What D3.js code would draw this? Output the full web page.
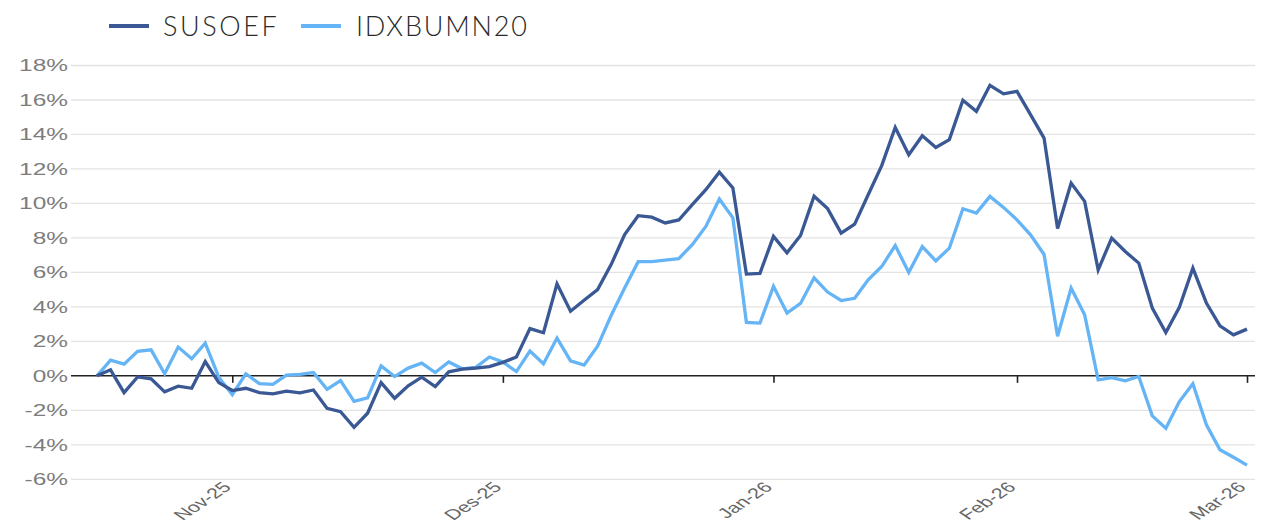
<!DOCTYPE html>
<html>
<head>
<meta charset="utf-8">
<script src="https://cdn.jsdelivr.net/npm/d3@7"></script>
<style>
  html, body { margin: 0; padding: 0; background: #fff; }
  svg { display: block; }
</style>
</head>
<body>
<svg id="chart" width="1272" height="528"></svg>
<script>
// ---- data (percent returns, one value per trading day) ----
const seriesNames = ["SUSOEF", "IDXBUMN20"];
const susoef = [
  0, 0.35, -0.97, -0.06, -0.17, -0.93, -0.6, -0.72, 0.83, -0.39,
  -0.85, -0.72, -0.97, -1.05, -0.89, -0.99, -0.82, -1.88, -2.08, -2.99,
  -2.17, -0.39, -1.3, -0.58, -0.08, -0.62, 0.23, 0.39, 0.45, 0.54,
  0.78, 1.09, 2.74, 2.5, 5.34, 3.75, 4.38, 5.0, 6.45, 8.19,
  9.29, 9.2, 8.87, 9.04, 9.93, 10.8, 11.81, 10.9, 5.9, 5.94,
  8.09, 7.14, 8.14, 10.42, 9.7, 8.28, 8.8, 10.5, 12.19, 14.41,
  12.82, 13.93, 13.25, 13.7, 15.98, 15.34, 16.85, 16.36, 16.5, 15.15,
  13.79, 8.55, 11.18, 10.12, 6.15, 7.99, 7.21, 6.54, 3.93, 2.51,
  3.98, 6.25, 4.22, 2.9, 2.38, 2.71
];
const idxbumn20 = [
  0, 0.91, 0.68, 1.42, 1.51, 0.12, 1.67, 0.99, 1.9, -0.08,
  -1.09, 0.12, -0.45, -0.49, 0.04, 0.08, 0.19, -0.78, -0.27, -1.48,
  -1.28, 0.58, -0.04, 0.45, 0.74, 0.19, 0.8, 0.41, 0.49, 1.09,
  0.8, 0.25, 1.44, 0.7, 2.19, 0.87, 0.62, 1.72, 3.5, 5.1,
  6.62, 6.62, 6.71, 6.8, 7.61, 8.67, 10.26, 9.16, 3.1, 3.06,
  5.19, 3.64, 4.2, 5.69, 4.86, 4.37, 4.5, 5.57, 6.34, 7.56,
  6.0, 7.5, 6.67, 7.41, 9.69, 9.44, 10.41, 9.77, 9.05, 8.18,
  7.04, 2.3, 5.09, 3.54, -0.23, -0.1, -0.29, -0.04, -2.32, -3.04,
  -1.49, -0.46, -2.84, -4.29, -4.72, -5.18
];
const monthLabels = ["Nov-25", "Des-25", "Jan-26", "Feb-26", "Mar-26"];
const monthStartIndex = [10, 30, 50, 68, 85];
const yTicks = [-6, -4, -2, 0, 2, 4, 6, 8, 10, 12, 14, 16, 18];

// ---- layout ----
const colors = ["#3a5894", "#64b4f6"];
const stretch = 1.5; // chart texts appear horizontally widened
const svg = d3.select("#chart");
const gridLeft = 71, gridRight = 1255;

const x = d3.scaleLinear().domain([0, susoef.length - 1]).range([97, 1247]);
const y = d3.scaleLinear().domain([-6, 18]).range([479.3, 65.5]);

// gridlines
svg.append("g").selectAll("line").data(yTicks.filter(d => d !== 0)).join("line")
  .attr("x1", gridLeft).attr("x2", gridRight)
  .attr("y1", d => y(d)).attr("y2", d => y(d))
  .attr("stroke", "#e3e3e3").attr("stroke-width", 1.3);

// y axis labels
const yAxis = d3.axisLeft(y).tickValues(yTicks).tickSize(0).tickPadding(0)
  .tickFormat(d => d + "%");
const yg = svg.append("g").attr("transform", `translate(68,0)`).call(yAxis);
yg.select(".domain").remove();
yg.selectAll("text")
  .attr("x", 0)
  .attr("fill", "#7d7d7d")
  .attr("transform", `scale(${stretch},1)`)
  .style("font-family", "'Liberation Sans', Arial, sans-serif")
  .style("font-size", "16.3px");

// zero line + month ticks
const xAxis = d3.axisBottom(x).tickValues(monthStartIndex).tickSize(7)
  .tickFormat((d, i) => monthLabels[i]);
const xg = svg.append("g").attr("transform", `translate(0,${y(0)})`).call(xAxis);
xg.select(".domain").remove();
xg.selectAll(".tick line").attr("stroke", "#222").attr("stroke-width", 1.6);
svg.append("line")
  .attr("x1", gridLeft).attr("x2", gridRight)
  .attr("y1", y(0)).attr("y2", y(0))
  .attr("stroke", "#222").attr("stroke-width", 1.5);

// x labels placed below the plot, rotated
xg.selectAll(".tick text")
  .attr("text-anchor", "end")
  .attr("fill", "#666")
  .style("font-family", "'Liberation Sans', Arial, sans-serif")
  .style("font-size", "14.5px")
  .attr("dy", null).attr("y", null)
  .attr("transform", `translate(-0.5,${488 - y(0)}) scale(${stretch},1) rotate(-45)`);

// lines
const line = d3.line().x((d, i) => x(i)).y(d => y(d));
[idxbumn20, susoef].forEach((s) => {
  svg.append("path").datum(s)
    .attr("fill", "none")
    .attr("stroke", s === susoef ? colors[0] : colors[1])
    .attr("stroke-width", 3.3)
    .attr("stroke-linejoin", "miter")
    .attr("d", line);
});

// legend
const legendItems = [
  { name: seriesNames[0], color: colors[0], x1: 109, x2: 149, tx: 163, ls: 2.6 },
  { name: seriesNames[1], color: colors[1], x1: 301, x2: 341, tx: 356, ls: 1.8 }
];
const lg = svg.append("g");
legendItems.forEach(it => {
  lg.append("line").attr("x1", it.x1).attr("x2", it.x2)
    .attr("y1", 26).attr("y2", 26)
    .attr("stroke", it.color).attr("stroke-width", 4);
  lg.append("text").attr("x", it.tx).attr("y", 36)
    .text(it.name)
    .attr("fill", "#2a2a2a")
    .style("font-family", "Lato, 'Open Sans', sans-serif")
    .style("font-weight", 300)
    .style("font-size", "27px")
    .style("letter-spacing", it.ls + "px");
});
</script>
</body>
</html>
